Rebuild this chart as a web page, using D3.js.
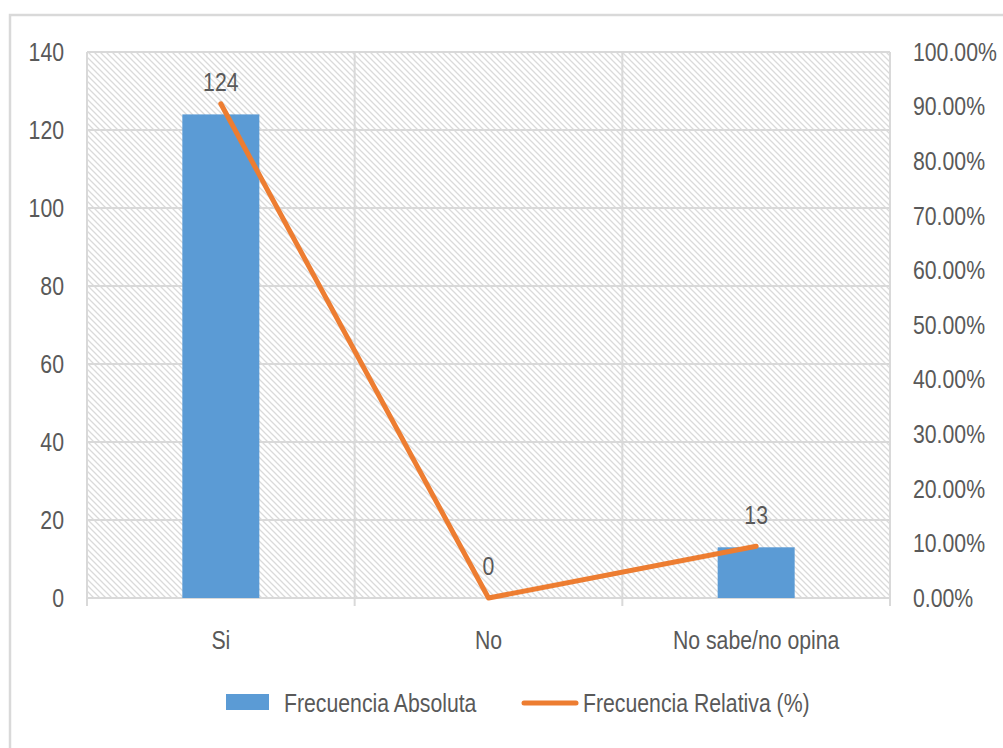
<!DOCTYPE html>
<html>
<head>
<meta charset="utf-8">
<script src="https://cdn.jsdelivr.net/npm/d3@7"></script>
<style>
  html, body { margin: 0; padding: 0; background: #fff; }
  svg text { font-family: "Liberation Sans Narrow", "Arial Narrow", "Liberation Sans", sans-serif; fill: #595959; }
</style>
</head>
<body>
<svg id="chart" width="1003" height="748"></svg>
<script>
// Survey answers: absolute count and relative share per option
const categories = ["Si", "No", "No sabe/no opina"];
const absolute = [124, 0, 13];
const relative = [0.9051, 0, 0.0949];
const leftTicks = [0, 20, 40, 60, 80, 100, 120, 140];
const rightTicks = [0, 0.1, 0.2, 0.3, 0.4, 0.5, 0.6, 0.7, 0.8, 0.9, 1.0];
const seriesNames = ["Frecuencia Absoluta", "Frecuencia Relativa (%)"];

const BLUE = "#5b9bd5", ORANGE = "#ed7d31", GRID = "#d9d9d9";
const FS = 25, SQUEEZE = 0.85; // condensed label look
const svg = d3.select("#chart");
const plot = { left: 87, right: 890, top: 52, bottom: 598 };

// Places a horizontally condensed text at (x, y)
function label(sel, xf, yf, anchor) {
  return sel
    .attr("transform", (d, i) => `translate(${xf(d, i)},${yf(d, i)}) scale(${SQUEEZE},1)`)
    .attr("dy", "0.35em").attr("text-anchor", anchor).attr("font-size", FS);
}

// Outer chart frame
svg.append("rect")
  .attr("x", 10).attr("y", 15).attr("width", 1020).attr("height", 760)
  .attr("fill", "none").attr("stroke", GRID).attr("stroke-width", 2.5);

// Diagonal hatch fill of the plot area
const defs = svg.append("defs");
const pat = defs.append("pattern")
  .attr("id", "hatch").attr("patternUnits", "userSpaceOnUse")
  .attr("width", 6).attr("height", 6);
pat.append("path")
  .attr("d", "M-1,-1 L7,7 M-4,2 L4,10 M2,-4 L10,4")
  .attr("stroke", "#dadada").attr("stroke-width", 1.3);

const x = d3.scaleBand().domain(categories).range([plot.left, plot.right]).paddingInner(0).paddingOuter(0);
const yL = d3.scaleLinear().domain([0, 140]).range([plot.bottom, plot.top]);
const yR = d3.scaleLinear().domain([0, 1]).range([plot.bottom, plot.top]);
const cx = c => x(c) + x.bandwidth() / 2;

svg.append("rect")
  .attr("x", plot.left).attr("y", plot.top)
  .attr("width", plot.right - plot.left).attr("height", plot.bottom - plot.top)
  .attr("fill", "url(#hatch)");

// Horizontal gridlines
svg.append("g").selectAll("line").data(leftTicks).join("line")
  .attr("x1", plot.left).attr("x2", plot.right)
  .attr("y1", d => yL(d)).attr("y2", d => yL(d))
  .attr("stroke", GRID).attr("stroke-width", 2);

// Vertical gridlines at category boundaries, with tick marks below the axis
const bounds = categories.map(c => x(c)).concat([plot.right]);
svg.append("g").selectAll("line").data(bounds).join("line")
  .attr("x1", d => d).attr("x2", d => d)
  .attr("y1", plot.top).attr("y2", plot.bottom + 8)
  .attr("stroke", GRID).attr("stroke-width", 2);

// Left axis labels
label(svg.append("g").selectAll("text").data(leftTicks).join("text"),
  () => 64, d => yL(d), "end").text(d => d);

// Right axis labels
label(svg.append("g").selectAll("text").data(rightTicks).join("text"),
  () => 913, d => yR(d), "start").text(d => d3.format(".2%")(d));

// Category labels
label(svg.append("g").selectAll("text").data(categories).join("text"),
  d => cx(d), () => 640, "middle").text(d => d);

// Bars
const barW = 77;
svg.append("g").selectAll("rect").data(absolute).join("rect")
  .attr("x", (d, i) => cx(categories[i]) - barW / 2)
  .attr("width", barW)
  .attr("y", d => yL(d))
  .attr("height", d => plot.bottom - yL(d))
  .attr("fill", BLUE);

// Relative frequency line
const line = d3.line()
  .x((d, i) => cx(categories[i]))
  .y(d => yR(d));
svg.append("path").datum(relative)
  .attr("d", line)
  .attr("fill", "none").attr("stroke", ORANGE)
  .attr("stroke-width", 5).attr("stroke-linejoin", "round").attr("stroke-linecap", "round");

// Value labels
label(svg.append("g").selectAll("text").data(absolute).join("text"),
  (d, i) => cx(categories[i]), d => yL(d) - 32, "middle").text(d => d);

// Legend
const lg = svg.append("g");
lg.append("rect").attr("x", 226).attr("y", 694).attr("width", 43).attr("height", 16).attr("fill", BLUE);
label(lg.append("text").datum(seriesNames[0]), () => 284, () => 703, "start").text(d => d);
lg.append("line").attr("x1", 524).attr("x2", 576).attr("y1", 703).attr("y2", 703)
  .attr("stroke", ORANGE).attr("stroke-width", 5).attr("stroke-linecap", "round");
label(lg.append("text").datum(seriesNames[1]), () => 583, () => 703, "start").text(d => d);
</script>
</body>
</html>
